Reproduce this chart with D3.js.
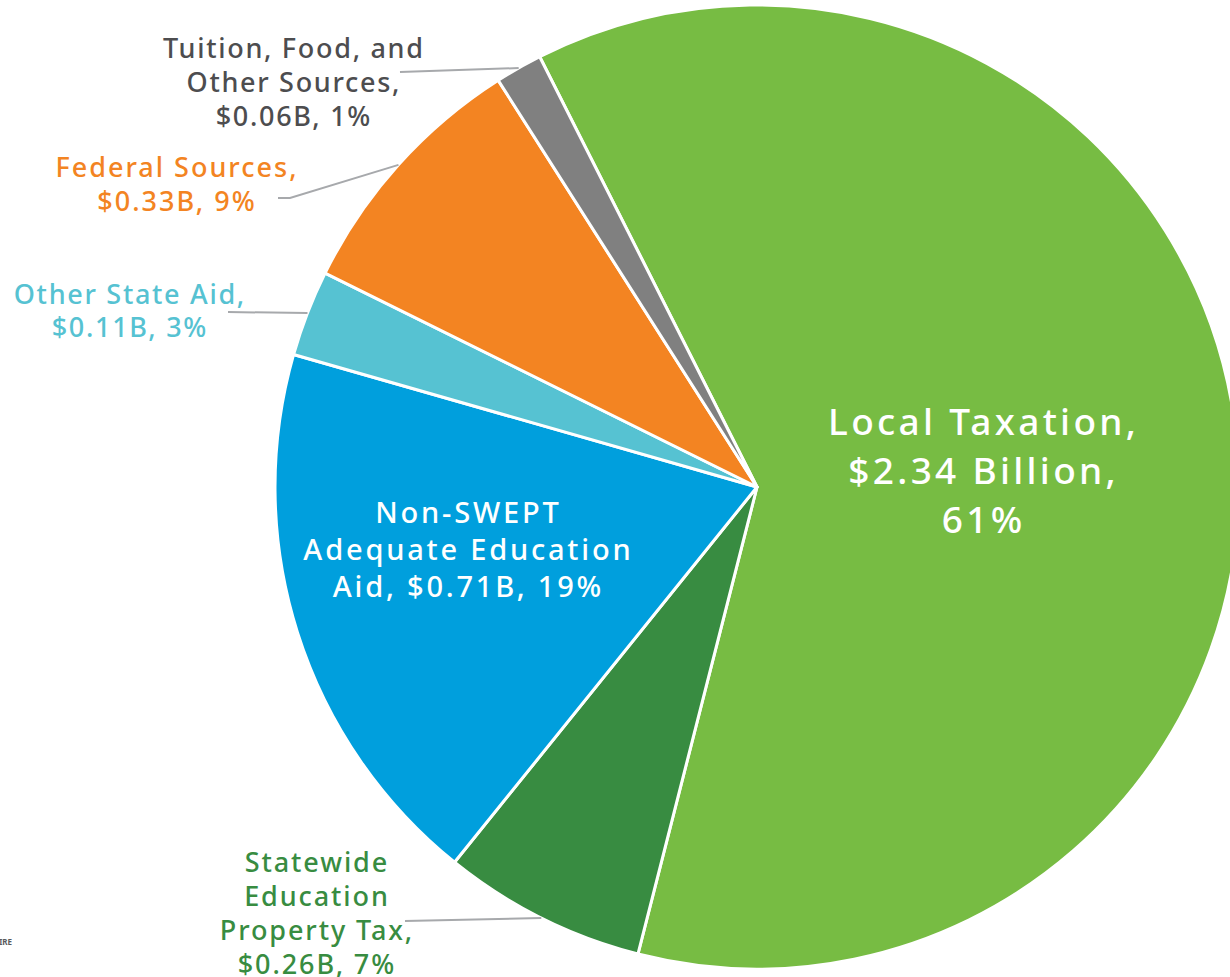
<!DOCTYPE html>
<html>
<head>
<meta charset="utf-8">
<script src="https://cdn.jsdelivr.net/npm/d3@7"></script>
<style>
  html, body { margin: 0; padding: 0; background: #fff; overflow: hidden; }
  svg { display: block; font-family: "Noto Sans", sans-serif; }
</style>
</head>
<body>
<svg id="chart"></svg>
<script>
// revenue sources, in billions (clockwise from the top)
const categories = ['Local Taxation', 'Statewide Education Property Tax', 'Non-SWEPT Adequate Education Aid',
  'Other State Aid', 'Federal Sources', 'Tuition, Food, and Other Sources'];
const values = [2.34, 0.26, 0.71, 0.11, 0.33, 0.06];
const percents = ['61%', '7%', '19%', '3%', '9%', '1%'];
const labelLines = [
  ['Local Taxation,', '$2.34 Billion,', '61%'],
  ['Statewide', 'Education', 'Property Tax,', '$0.26B, 7%'],
  ['Non-SWEPT', 'Adequate Education', 'Aid, $0.71B, 19%'],
  ['Other State Aid,', '$0.11B, 3%'],
  ['Federal Sources,', '$0.33B, 9%'],
  ['Tuition, Food, and', 'Other Sources,', '$0.06B, 1%']
];
const colors = ['#77bc43', '#388c41', '#009fdd', '#56c2d2', '#f38422', '#808080'];
const textColors = ['#ffffff', '#388c41', '#ffffff', '#56c2d2', '#f38422', '#4d4d4f'];

const width = 1230, height = 977;
const cx = 757, cy = 487, radius = 482;

// label placement: inside labels have no leader; outside ones get a leader line
const layout = [
  { x: 982, y: 435, size: 37, dy: 49, ls: 3.3 },
  { x: 316, y: 872, size: 27, dy: 34, ls: 1.9, leader: [[405, 921]] },
  { x: 467, y: 523, size: 29, dy: 37, ls: 2.8 },
  { x: 129, y: 304, size: 27, dy: 33, ls: 1.7, leader: [[228, 312]] },
  { x: 176, y: 177, size: 27, dy: 34, ls: 2.0, leader: [[278, 198], [290, 198]] },
  { x: 293, y: 58, size: 27, dy: 34, ls: 1.7, leader: [[400, 72]] }
];

const svg = d3.select('#chart')
    .attr('width', width)
    .attr('height', height);

const g = svg.append('g')
    .attr('transform', `translate(${cx},${cy})`);

const startAngle = -26.8 * Math.PI / 180;
const pie = d3.pie()
    .sort(null)
    .value(d => d)
    .startAngle(startAngle)
    .endAngle(startAngle + 2 * Math.PI);

const arcs = pie(values);
const arc = d3.arc().innerRadius(0).outerRadius(radius);
const edge = d3.arc().innerRadius(radius).outerRadius(radius);

g.selectAll('.slice')
  .data(arcs)
  .join('path')
    .attr('class', 'slice')
    .attr('d', arc)
    .attr('fill', (d, i) => colors[i])
    .attr('stroke', '#fff')
    .attr('stroke-width', 3)
    .attr('stroke-linejoin', 'round');

// leader lines from label to the slice's outer edge
arcs.forEach((d, i) => {
  const lay = layout[i];
  if (!lay.leader) return;
  const end = edge.centroid(d);
  const pts = lay.leader.concat([[end[0] + cx, end[1] + cy]]);
  svg.append('path')
    .attr('d', d3.line()(pts))
    .attr('fill', 'none')
    .attr('stroke', '#a7a9ac')
    .attr('stroke-width', 2);
});

labelLines.forEach((lines, i) => {
  const lay = layout[i];
  const t = svg.append('text')
      .attr('text-anchor', 'middle')
      .attr('fill', textColors[i])
      .attr('font-size', lay.size)
      .attr('letter-spacing', lay.ls)
      .attr('font-weight', 500);
  lines.forEach((line, j) => {
    t.append('tspan')
      .attr('x', lay.x + lay.ls / 2)
      .attr('y', lay.y + j * lay.dy)
      .text(line);
  });
});

// cropped source footer fragment at the left edge
svg.append('text')
    .attr('x', 12)
    .attr('y', 945)
    .attr('text-anchor', 'end')
    .attr('font-size', 8)
    .attr('font-weight', 700)
    .attr('fill', '#58595b')
    .text('HAMPSHIRE');
</script>
</body>
</html>
